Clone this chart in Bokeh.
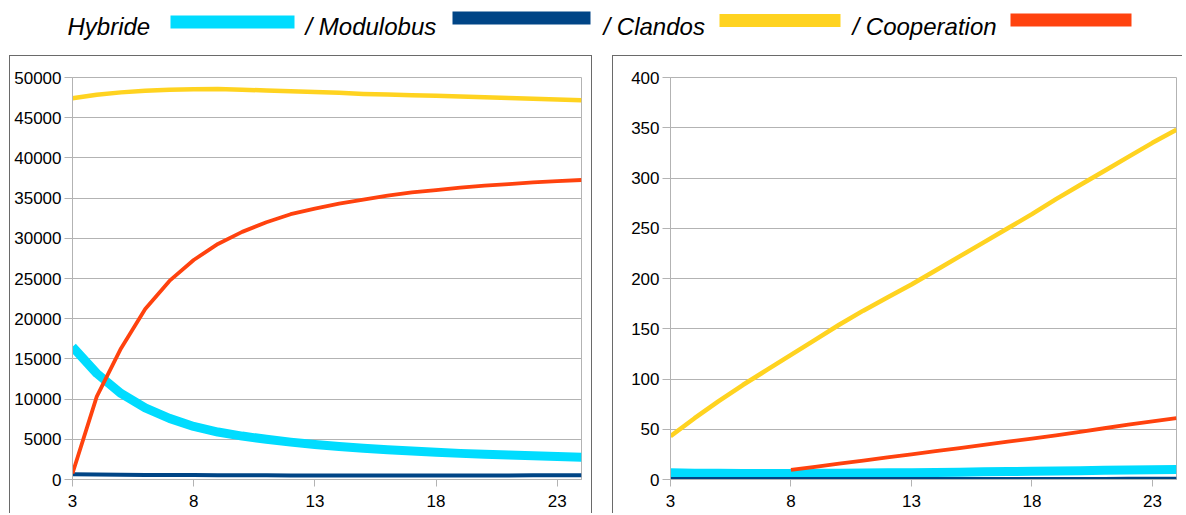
from bokeh.plotting import figure
from bokeh.models import Range1d, FixedTicker, BoxAnnotation, Label, BasicTickFormatter, Spacer
from bokeh.layouts import column, row
from bokeh.embed import file_html
from bokeh.resources import INLINE

# ---------------- data ----------------
x = list(range(3, 25))

series_names = ["Hybride", "Modulobus", "Clandos", "Cooperation"]
legend_texts = ["Hybride", "/ Modulobus", "/ Clandos", "/ Cooperation"]
series_colors = ["#00dcff", "#004586", "#ffd320", "#ff420e"]

x_ticks = [3, 8, 13, 18, 23]
left_y_ticks = list(range(0, 50001, 5000))
right_y_ticks = list(range(0, 401, 50))

# left panel values
left_hybride = [16500, 13200, 10700, 8900, 7600, 6600, 5900, 5400, 5000, 4650, 4350,
                4100, 3900, 3700, 3550, 3400, 3250, 3150, 3050, 2950, 2850, 2770]
left_modulobus = [660, 630, 600, 575, 555, 545, 535, 525, 515, 510, 505,
                  500, 500, 500, 500, 505, 505, 510, 510, 515, 515, 520]
left_clandos = [47420, 47850, 48150, 48350, 48480, 48550, 48560, 48480, 48390, 48300, 48200,
                48100, 47960, 47880, 47800, 47720, 47640, 47550, 47450, 47360, 47270, 47170]
left_cooperation = [750, 10300, 16300, 21200, 24700, 27300, 29300, 30800, 32000, 33000, 33700,
                    34300, 34800, 35300, 35700, 36000, 36300, 36550, 36750, 36950, 37100, 37250]

# right panel values
nan = float("nan")
right_hybride = [6.6, 6.3, 6.1, 6.0, 6.0, 6.0, 6.1, 6.2, 6.4, 6.6, 6.8,
                 7.0, 7.3, 7.6, 7.9, 8.2, 8.5, 8.8, 9.1, 9.4, 9.6, 9.9]
right_modulobus = [0.4, 0.4, 0.4, 0.4, 0.4, 0.4, 0.4, 0.4, 0.4, 0.5, 0.5,
                   0.5, 0.5, 0.5, 0.5, 0.6, 0.6, 0.6, 0.6, 0.7, 0.7, 0.7]
right_clandos = [43, 61, 78, 94, 109, 124, 139, 154, 168, 181, 194,
                 208, 222, 236, 250, 264, 279, 293, 307, 321, 335, 348]
right_cooperation = [nan, nan, nan, nan, nan, 9.5, 12.6, 15.7, 18.8, 22.0, 25.0,
                     28.2, 31.3, 34.5, 37.6, 40.7, 44.0, 47.5, 51.0, 54.5, 57.8, 61.0]

left_values = [left_hybride, left_modulobus, left_clandos, left_cooperation]
right_values = [right_hybride, right_modulobus, right_clandos, right_cooperation]
line_widths = [9, 4, 4.5, 3.8]

FONT = "Liberation Sans"
GRID = "#b3b3b3"
FRAME = "1px solid #6a6a6a"


def make_panel(width, height, values, y_max, y_ticks, border_left, border_right, border_top,
               styles):
    p = figure(width=width, height=height, output_backend="svg", toolbar_location=None,
               x_range=Range1d(3, 24), y_range=Range1d(0, y_max),
               min_border_left=border_left, min_border_right=border_right,
               min_border_top=border_top, min_border_bottom=35, styles=styles)
    for vals, col, lw, name in zip(values, series_colors, line_widths, series_names):
        p.line(x, vals, line_color=col, line_width=lw, line_join="round", line_cap="butt")
    p.xaxis.ticker = FixedTicker(ticks=x_ticks)
    p.yaxis.ticker = FixedTicker(ticks=y_ticks)
    p.yaxis.formatter = BasicTickFormatter(use_scientific=False)
    for ax in (p.xaxis, p.yaxis):
        ax.axis_line_color = GRID
        ax.major_tick_line_color = GRID
        ax.minor_tick_line_color = None
        ax.major_tick_in = 0
        ax.major_label_text_font = FONT
        ax.major_label_text_font_size = "17px"
        ax.major_label_text_color = "#000000"
    p.xaxis.major_tick_out = 7
    p.xaxis.major_label_standoff = 8
    p.yaxis.major_tick_out = 8
    p.yaxis.major_label_standoff = 3
    p.xgrid.visible = False
    p.ygrid.grid_line_color = GRID
    p.ygrid.ticker = FixedTicker(ticks=y_ticks)
    p.outline_line_color = GRID
    p.background_fill_color = "white"
    p.border_fill_color = "white"
    return p


left = make_panel(583, 458, left_values, 50000, left_y_ticks, 62, 12, 21,
                  {"border-top": FRAME, "border-left": FRAME, "border-right": FRAME})
right = make_panel(570, 458, right_values, 400, right_y_ticks, 57, 7, 19,
                   {"border-top": FRAME, "border-left": FRAME})

# ---------------- legend strip ----------------
leg = figure(width=1185, height=55, output_backend="svg", toolbar_location=None,
             x_range=Range1d(0, 1185), y_range=Range1d(55, 0),
             x_axis_type=None, y_axis_type=None, min_border=0)
leg.outline_line_color = None
leg.xgrid.visible = False
leg.ygrid.visible = False
text_x = [67, 305, 603, 852]
bar_x0 = [170, 452, 719, 1010]
bar_x1 = [294, 590, 840, 1131]
bar_top = [15, 11, 13.5, 13]
for t, tx, c, b0, b1, bt in zip(legend_texts, text_x, series_colors, bar_x0, bar_x1, bar_top):
    leg.add_layout(Label(x=tx, y=26, text=t, text_font=FONT, text_font_size="24px",
                         text_font_style="italic", text_color="#000000",
                         text_baseline="alphabetic"))
    leg.add_layout(BoxAnnotation(left=b0, right=b1, top=bt, bottom=bt + 13,
                                 fill_color=c, fill_alpha=1, line_color=None))

panels = row(Spacer(width=9, height=10), left, Spacer(width=20, height=10), right, spacing=0)
layout = column(leg, panels, spacing=0)
open("out.html", "w").write(file_html(layout, INLINE))
